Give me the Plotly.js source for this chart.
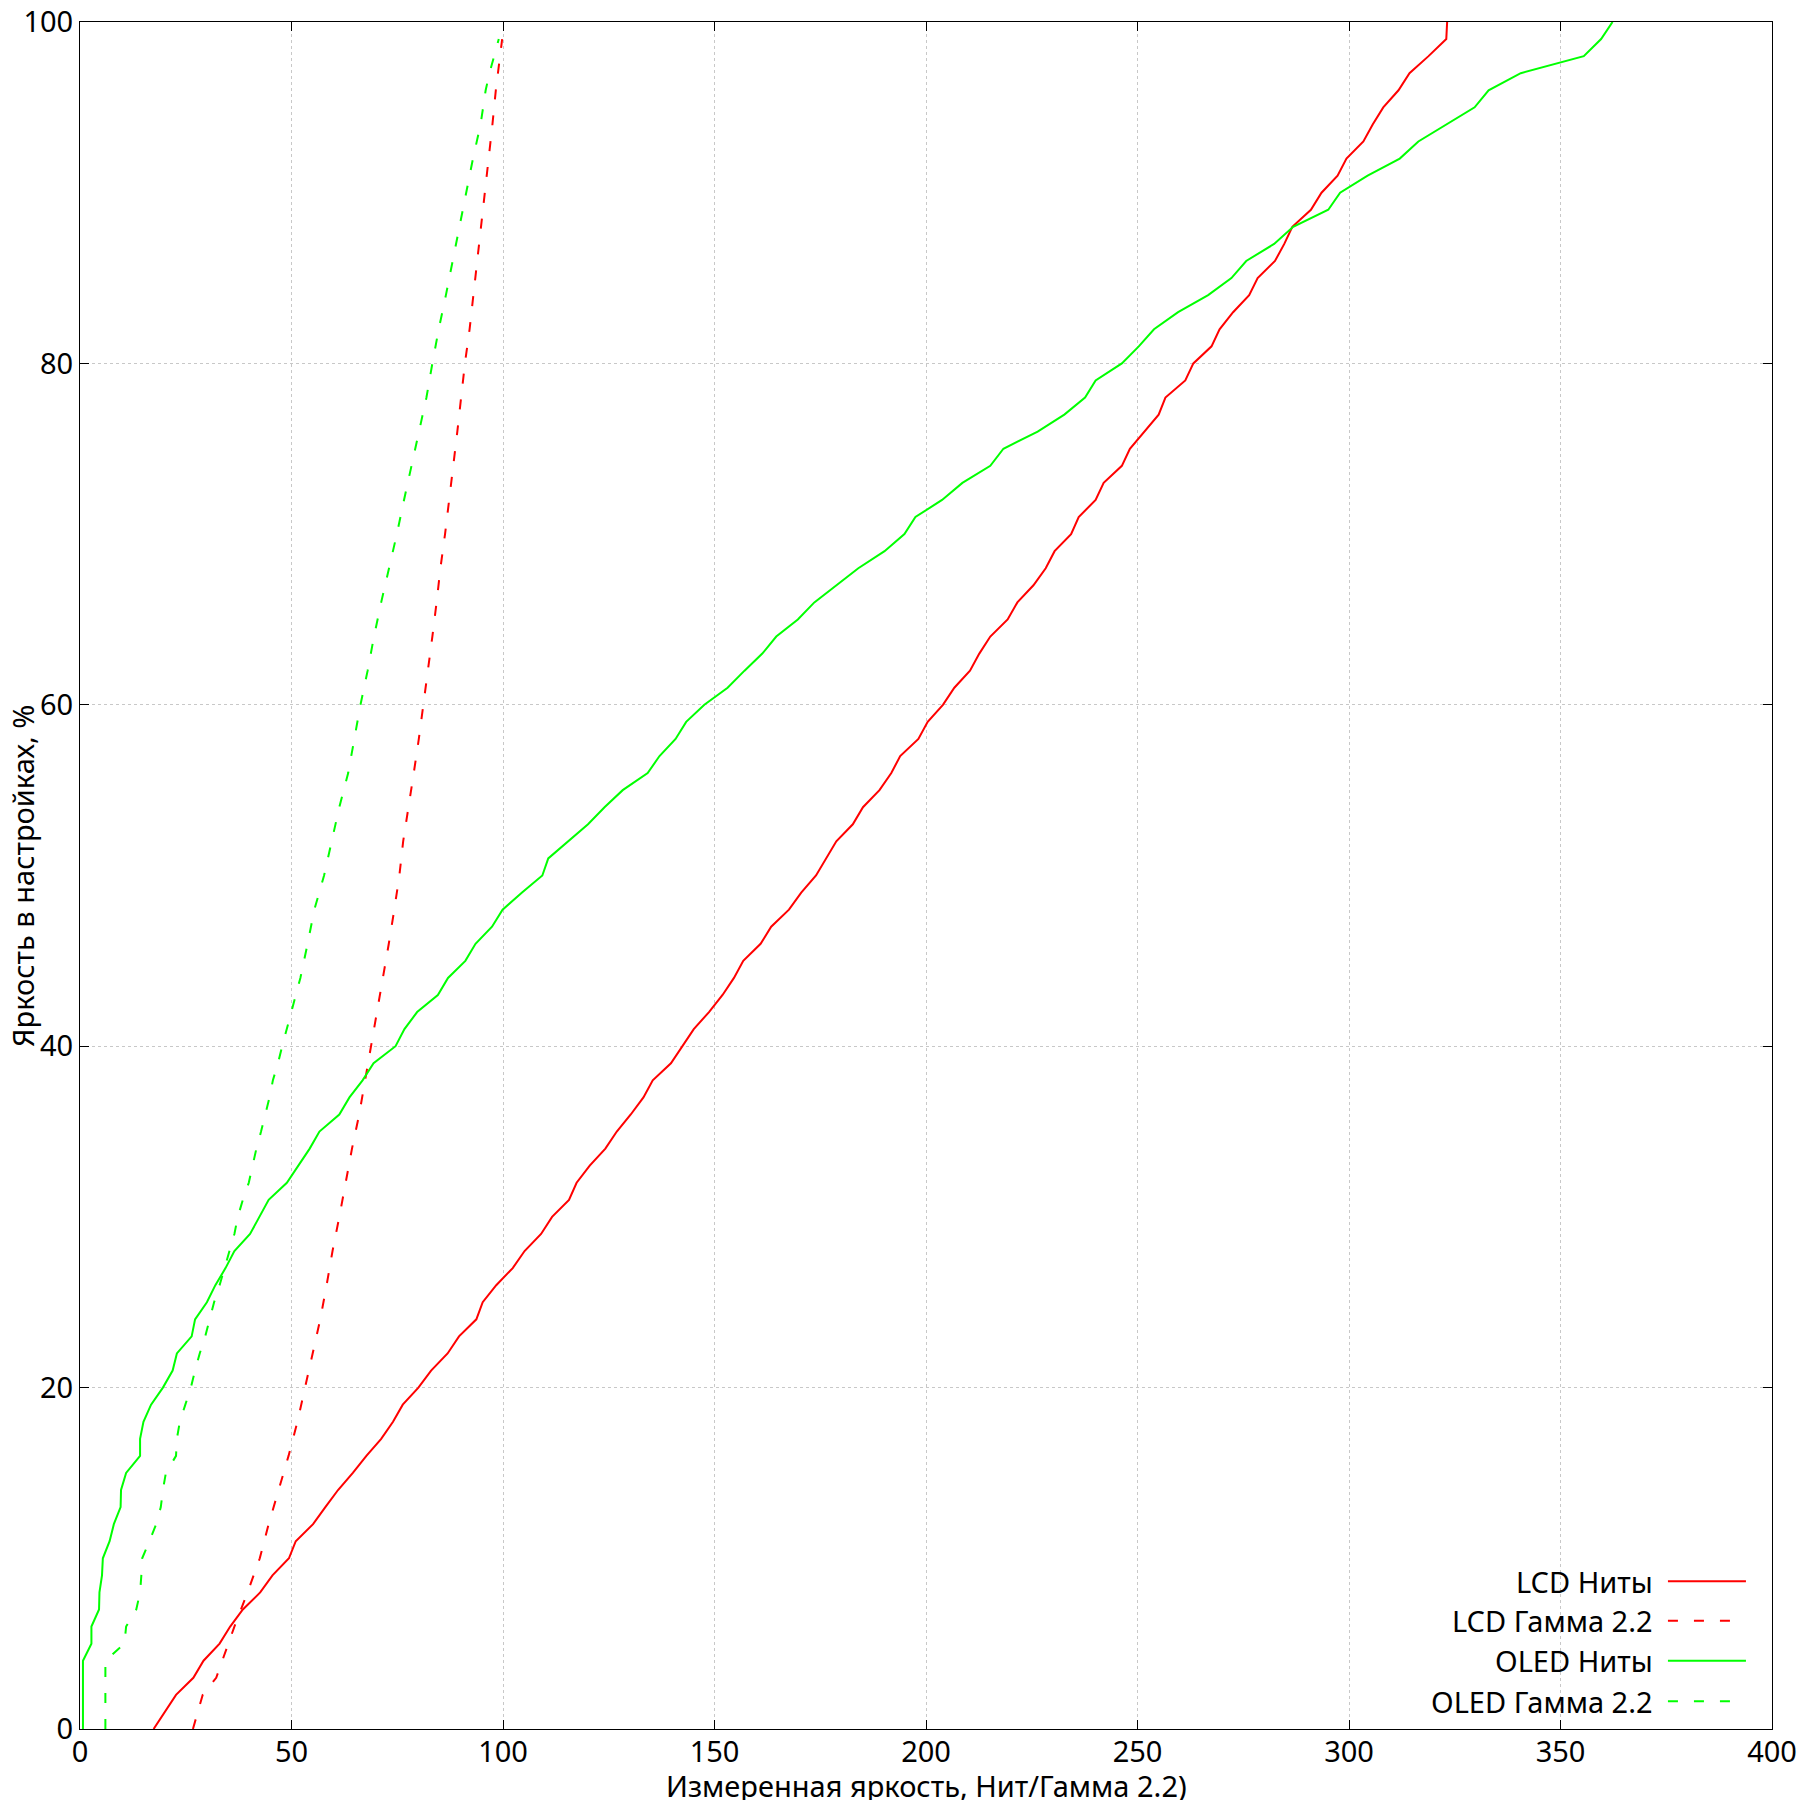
<!DOCTYPE html>
<html>
<head>
<meta charset="utf-8">
<script src="https://cdn.plot.ly/plotly-3.0.1.min.js"></script>
<style>
  html, body { margin: 0; padding: 0; background: #fff; }
  #chart { width: 1800px; height: 1800px; }
</style>
</head>
<body>
<div id="chart"></div>
<script>
(() => {
    "use strict";

    // brightness setting, % (one reading per step of the slider)
    const settingPct = [
        0, 1, 2, 3, 4, 5, 6, 7, 8, 9,
        10, 11, 12, 13, 14, 15, 16, 17, 18, 19,
        20, 21, 22, 23, 24, 25, 26, 27, 28, 29,
        30, 31, 32, 33, 34, 35, 36, 37, 38, 39,
        40, 41, 42, 43, 44, 45, 46, 47, 48, 49,
        50, 51, 52, 53, 54, 55, 56, 57, 58, 59,
        60, 61, 62, 63, 64, 65, 66, 67, 68, 69,
        70, 71, 72, 73, 74, 75, 76, 77, 78, 79,
        80, 81, 82, 83, 84, 85, 86, 87, 88, 89,
        90, 91, 92, 93, 94, 95, 96, 97, 98, 99,
        100
    ];

    // measured luminance, nits
    const lcdNits = [
        17.4, 20.0, 22.7, 26.8, 29.2, 33.0, 35.5, 38.5, 42.6, 45.5,
        49.4, 51.0, 55.1, 58.0, 61.0, 64.5, 67.7, 71.2, 74.0, 76.3,
        80.0, 83.0, 86.9, 89.6, 93.7, 95.2, 98.4, 102.3, 105.1, 109.0,
        111.6, 115.6, 117.4, 120.5, 124.2, 126.9, 130.2, 133.2, 135.4, 139.7,
        142.4, 145.1, 148.7, 151.9, 154.6, 156.8, 160.9, 163.4, 167.6, 170.5,
        174.0, 176.4, 178.8, 182.7, 185.1, 189.0, 191.8, 193.9, 198.2, 200.4,
        204.0, 206.7, 210.4, 212.6, 215.2, 219.3, 221.6, 225.4, 228.3, 230.4,
        234.3, 236.1, 240.1, 242.0, 246.3, 248.2, 251.5, 255.0, 256.6, 261.3,
        263.2, 267.5, 269.4, 272.6, 276.4, 278.4, 282.5, 284.7, 286.6, 291.0,
        293.5, 297.3, 299.4, 303.4, 305.6, 308.1, 311.7, 314.3, 318.8, 323.0,
        323.2
    ];

    const oledNits = [
        0.7, 0.7, 0.7, 0.7, 0.7, 2.7, 2.7, 4.5, 4.6, 5.2,
        5.4, 7.0, 8.0, 9.6, 9.7, 10.9, 14.2, 14.2, 15.0, 16.8,
        19.6, 21.9, 22.9, 26.4, 27.2, 30.0, 32.0, 34.4, 36.5, 40.2,
        42.4, 44.6, 48.9, 51.7, 54.3, 56.6, 61.3, 63.7, 66.8, 69.4,
        74.6, 76.7, 79.7, 84.6, 87.0, 91.1, 93.5, 97.4, 99.9, 104.5,
        109.3, 110.7, 115.5, 120.1, 124.0, 128.3, 134.2, 137.0, 140.8, 143.3,
        147.6, 153.1, 157.1, 161.3, 164.6, 169.7, 173.6, 178.9, 184.0, 190.2,
        194.9, 197.5, 203.8, 208.6, 215.2, 218.3, 226.4, 232.7, 237.6, 240.1,
        246.3, 250.3, 253.9, 259.6, 266.7, 272.2, 275.7, 282.3, 286.8, 295.1,
        297.9, 304.4, 312.0, 316.4, 323.0, 329.7, 333.0, 340.6, 355.5, 359.6,
        362.3
    ];

    // gamma 2.2 curves
    const lcdGammaPct = [
        0, 2, 3, 4, 6, 8, 10, 12, 14, 16, 18, 20, 22, 24, 26, 28, 30, 32, 34, 36,
        38, 40, 42, 44, 46, 48, 50, 52, 54, 56, 58, 60, 62, 64, 66, 68, 70, 72, 74, 76,
        78, 80, 82, 84, 86, 88, 90, 92, 94, 96, 98, 99
    ];
    const lcdGamma = [
        26.7, 29.0, 32.2, 33.6, 36.5, 39.6, 42.5, 44.6, 47.0, 49.3, 51.4, 53.2, 55.0, 56.8, 58.3, 59.7, 61.3, 62.8, 64.3, 66.0,
        67.4, 68.9, 70.3, 71.6, 73.0, 74.3, 75.5, 76.4, 77.7, 78.9, 80.1, 81.2, 82.2, 83.3, 84.3, 85.2, 86.3, 87.3, 88.3, 89.2,
        90.1, 91.0, 92.1, 93.0, 93.9, 94.9, 95.8, 96.7, 97.5, 98.3, 99.2, 99.8
    ];

    const oledGammaPct = [
        0, 4, 5, 6, 7, 8, 9, 10, 11, 12, 13, 14, 15, 16, 17, 18, 19, 20, 21, 22,
        23, 24, 25, 26, 27, 28, 29, 30, 31, 32, 33, 34, 35, 36, 37, 38, 39, 40,
        42, 44, 46, 48, 50, 52, 54, 56, 58, 60, 62, 64, 66, 68, 70, 72, 74, 76,
        78, 80, 82, 84, 86, 88, 90, 92, 94, 96, 97, 99
    ];
    const oledGamma = [
        6.0, 6.0, 10.5, 10.9, 13.3, 14.2, 14.5, 14.7, 16.4, 18.0, 19.1, 19.6, 20.3, 22.7, 22.9, 23.6, 24.9, 26.2, 27.2, 28.3,
        29.6, 30.7, 31.7, 33.0, 34.2, 35.4, 36.5, 37.3, 38.5, 39.9, 40.8, 41.7, 42.8, 43.8, 44.8, 45.6, 46.8, 47.8,
        50.0, 52.1, 53.8, 55.4, 57.7, 59.5, 61.3, 63.4, 64.8, 66.3, 68.0, 69.5, 71.2, 73.1, 74.9, 76.6, 78.4, 80.2,
        81.9, 83.3, 84.8, 86.5, 88.1, 89.7, 91.3, 92.9, 94.7, 95.9, 96.8, 99.0
    ];

    const RED = "#ff0000";
    const GREEN = "#00ff00";
    const DASH = "10px,16px";
    const FONT = "Noto Sans, Open Sans, DejaVu Sans, sans-serif";
    const FS = 29;

    const series = [
        { name: "LCD Ниты", x: lcdNits, y: settingPct, color: RED, dash: "solid" },
        { name: "LCD Гамма 2.2", x: lcdGamma, y: lcdGammaPct, color: RED, dash: DASH },
        { name: "OLED Ниты", x: oledNits, y: settingPct, color: GREEN, dash: "solid" },
        { name: "OLED Гамма 2.2", x: oledGamma, y: oledGammaPct, color: GREEN, dash: DASH },
    ];

    const traces = series.map((s) => ({
        type: "scatter",
        mode: "lines",
        name: s.name,
        x: s.x,
        y: s.y,
        line: { color: s.color, width: 2, dash: s.dash },
        hoverinfo: "skip",
    }));

    // gnuplot-style key: text right-aligned, line sample to the right
    const keyRows = [0.0865, 0.0634, 0.0400, 0.0162];
    const keyText = series.map((s, i) => ({
        xref: "paper", yref: "paper",
        x: 0.9310, y: keyRows[i],
        xanchor: "right", yanchor: "middle",
        text: s.name, showarrow: false,
        font: { family: FONT, size: FS, color: "#000" },
    }));
    const keyLines = series.map((s, i) => ({
        type: "line", xref: "paper", yref: "paper",
        x0: 0.9385, x1: 0.9846, y0: keyRows[i], y1: keyRows[i],
        line: { color: s.color, width: 2, dash: s.dash },
    }));

    const axisCommon = {
        showline: true, linecolor: "#000", linewidth: 1, mirror: "ticks",
        ticks: "inside", ticklen: 9, tickwidth: 1, tickcolor: "#000",
        showgrid: true, gridcolor: "#c8c8c8", gridwidth: 1, griddash: "dot",
        zeroline: false, automargin: false,
        tickfont: { family: FONT, size: FS, color: "#000" },
    };

    const layout = {
        width: 1800, height: 1800,
        margin: { l: 80, r: 28, t: 22, b: 71 },
        paper_bgcolor: "#fff", plot_bgcolor: "#fff",
        font: { family: FONT, size: FS, color: "#000" },
        showlegend: false,
        xaxis: Object.assign({}, axisCommon, {
            range: [0, 400], tick0: 0, dtick: 50, ticklabelstandoff: -3,
        }),
        yaxis: Object.assign({}, axisCommon, {
            range: [0, 100], tick0: 0, dtick: 20, ticklabelstandoff: 0,
        }),
        shapes: keyLines,
        annotations: keyText.concat([
            {
                xref: "paper", yref: "paper", x: 0.5, y: -0.033,
                xanchor: "center", yanchor: "middle", showarrow: false,
                text: "Измеренная яркость, Нит/Гамма 2.2)",
                font: { family: FONT, size: FS, color: "#000" },
            },
            {
                xref: "paper", yref: "paper", x: -0.034, y: 0.5,
                xanchor: "center", yanchor: "middle", showarrow: false,
                textangle: -90,
                text: "Яркость в настройках, %",
                font: { family: FONT, size: FS, color: "#000" },
            },
        ]),
    };

    Plotly.newPlot("chart", traces, layout, { displayModeBar: false, staticPlot: true });
})();
</script>
</body>
</html>
